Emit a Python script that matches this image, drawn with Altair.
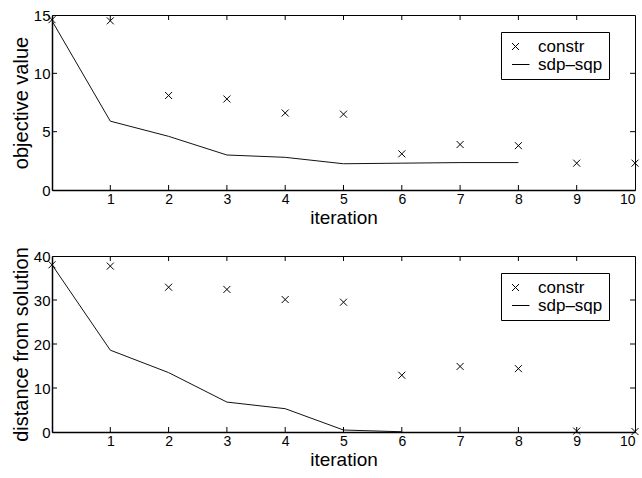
import altair as alt
import pandas as pd

# ---- data ----
iterations = [0, 1, 2, 3, 4, 5, 6, 7, 8, 9, 10]
series_labels = ["constr", "sdp–sqp"]

obj_constr = [14.6, 14.5, 8.1, 7.8, 6.6, 6.5, 3.1, 3.9, 3.8, 2.3, 2.3]
obj_sdp_iter = [0, 1, 2, 3, 4, 5, 6, 7, 8]
obj_sdp = [14.5, 5.9, 4.6, 3.0, 2.8, 2.25, 2.3, 2.35, 2.35]

dist_constr = [38.0, 37.7, 32.9, 32.4, 30.1, 29.5, 12.9, 14.9, 14.4, 0.2, 0.1]
dist_sdp_iter = [0, 1, 2, 3, 4, 5, 6]
dist_sdp = [38.0, 18.6, 13.5, 6.8, 5.3, 0.45, 0.05]

x_ticks = [1, 2, 3, 4, 5, 6, 7, 8, 9, 10]
obj_ticks = [0, 5, 10, 15]
dist_ticks = [0, 10, 20, 30, 40]

FONT = "Liberation Sans"
W = 583
XPATH = "M-1,-1L1,1M-1,1L1,-1"
LPATH = "M-1,0L4,0"


def panel(constr, sdp_x, sdp_y, yticks, ytitle, H):
    ymax = yticks[-1]
    xs = alt.Scale(domain=[0, 10], nice=False, zero=False)
    ys = alt.Scale(domain=[0, ymax], nice=False)
    xa = alt.Axis(values=x_ticks, title="iteration", tickSize=0,
                  labelPadding=2, labelFontSize=14, titleFontSize=19,
                  titlePadding=2, titleFontWeight="normal",
                  labelFont=FONT, titleFont=FONT, grid=False,
                  domainColor="black", domainWidth=1.5,
                  labelColor="black", titleColor="black")
    ya = alt.Axis(values=yticks, title=ytitle, tickSize=0,
                  labelPadding=2, labelFontSize=15, titleFontSize=20,
                  titlePadding=2, titleFontWeight="normal",
                  labelFont=FONT, titleFont=FONT, grid=False,
                  domainColor="black", domainWidth=1.5,
                  labelColor="black", titleColor="black")
    df_c = pd.DataFrame({"iteration": iterations, "value": constr,
                         "series": series_labels[0]})
    df_s = pd.DataFrame({"iteration": sdp_x, "value": sdp_y})

    points = alt.Chart(df_c).mark_point(filled=False, color="black",
                                        strokeWidth=1, size=49, opacity=1).encode(
        x=alt.X("iteration:Q", scale=xs, axis=xa),
        y=alt.Y("value:Q", scale=ys, axis=ya),
        shape=alt.Shape("series:N",
                        scale=alt.Scale(domain=series_labels, range=[XPATH, LPATH]),
                        legend=alt.Legend(title=None, orient="none",
                                          legendX=449, legendY=17,
                                          strokeColor="black", fillColor="white",
                                          padding=6, labelFontSize=17,
                                          labelFont=FONT, labelColor="black",
                                          symbolSize=49, symbolStrokeColor="black",
                                          symbolFillColor="transparent",
                                          symbolStrokeWidth=1, labelOffset=14,
                                          rowPadding=0, cornerRadius=0)),
    )

    line = alt.Chart(df_s).mark_line(color="#111", strokeWidth=1).encode(
        x=alt.X("iteration:Q", scale=xs, axis=xa),
        y=alt.Y("value:Q", scale=ys, axis=ya),
    )

    xt = pd.DataFrame({"iteration": x_ticks[:-1]})
    yt = pd.DataFrame({"value": yticks[1:-1]})
    tk_top = alt.Chart(xt).mark_rule(color="black", strokeWidth=1).encode(
        x=alt.X("iteration:Q", scale=xs, axis=xa), y=alt.value(0), y2=alt.value(5))
    tk_bot = alt.Chart(xt).mark_rule(color="black", strokeWidth=1).encode(
        x=alt.X("iteration:Q", scale=xs, axis=xa), y=alt.value(H - 5), y2=alt.value(H))
    tk_left = alt.Chart(yt).mark_rule(color="black", strokeWidth=1).encode(
        y=alt.Y("value:Q", scale=ys, axis=ya), x=alt.value(0), x2=alt.value(5))
    tk_right = alt.Chart(yt).mark_rule(color="black", strokeWidth=1).encode(
        y=alt.Y("value:Q", scale=ys, axis=ya), x=alt.value(W - 5), x2=alt.value(W))

    return alt.layer(line, points, tk_top, tk_bot, tk_left, tk_right).properties(
        width=W, height=H)


top = panel(obj_constr, obj_sdp_iter, obj_sdp, obj_ticks, "objective value", 175)
bottom = panel(dist_constr, dist_sdp_iter, dist_sdp, dist_ticks,
               "distance from solution", 176)

chart = alt.vconcat(top, bottom, spacing=18).resolve_scale(
    shape="independent").resolve_legend(shape="independent").properties(
    padding={"left": 10, "top": 7, "right": 0, "bottom": 0},
    background="white",
).configure_view(stroke="black", strokeWidth=1).configure_axis(
    labelFont=FONT, titleFont=FONT)

chart.save("out.html", embed_options={"renderer": "svg", "actions": False})
